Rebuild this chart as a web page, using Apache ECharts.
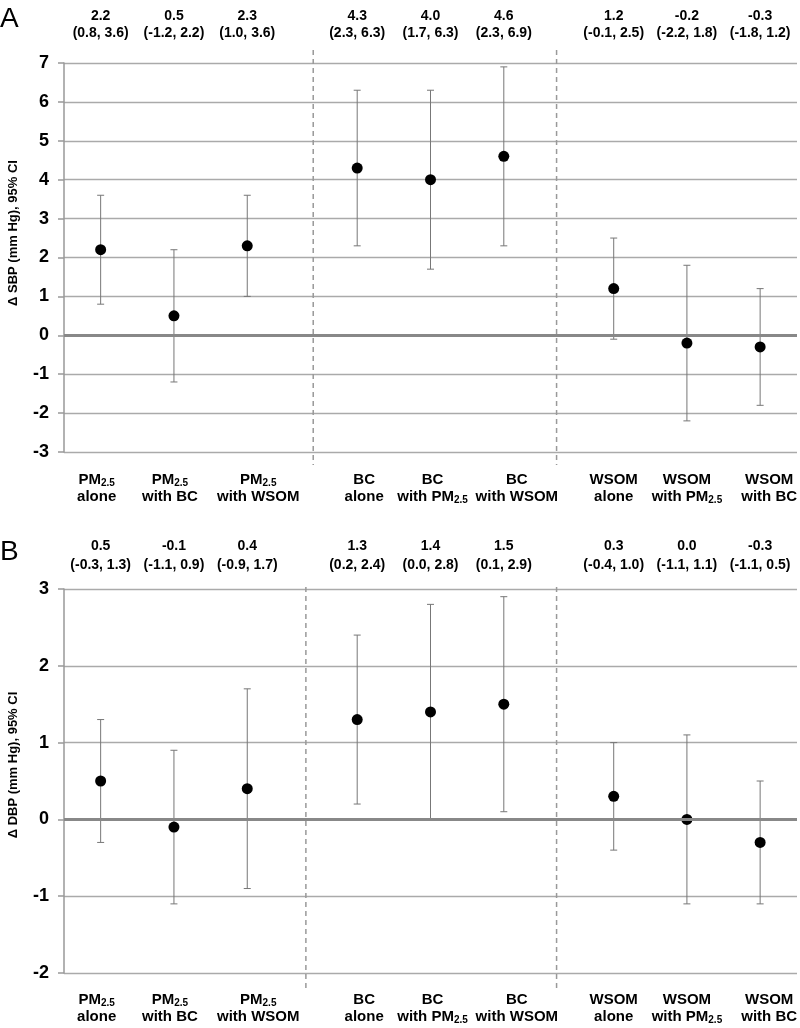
<!DOCTYPE html>
<html><head><meta charset="utf-8">
<script src="https://cdn.jsdelivr.net/npm/echarts/dist/echarts.min.js"></script>
<style>html,body{margin:0;padding:0;background:#fff}#c{width:800px;height:1028px}</style>
</head><body><div id="c"></div>
<script>
// ---- data ----
const catTop = ['PM2.5','PM2.5','PM2.5','BC','BC','BC','WSOM','WSOM','WSOM'];
const catBottom = ['alone','with BC','with WSOM','alone','with PM2.5','with WSOM','alone','with PM2.5','with BC'];
const sbpEst = [2.2, 0.5, 2.3, 4.3, 4.0, 4.6, 1.2, -0.2, -0.3];
const sbpLo  = [0.8, -1.2, 1.0, 2.3, 1.7, 2.3, -0.1, -2.2, -1.8];
const sbpHi  = [3.6, 2.2, 3.6, 6.3, 6.3, 6.9, 2.5, 1.8, 1.2];
const dbpEst = [0.5, -0.1, 0.4, 1.3, 1.4, 1.5, 0.3, 0.0, -0.3];
const dbpLo  = [-0.3, -1.1, -0.9, 0.2, 0.0, 0.1, -0.4, -1.1, -1.1];
const dbpHi  = [1.3, 0.9, 1.7, 2.4, 2.8, 2.9, 1.0, 1.1, 0.5];
const sbpTicks = {min: -3, max: 7, interval: 1};
const dbpTicks = {min: -2, max: 3, interval: 1};
const sbpName = 'Δ SBP (mm Hg), 95% CI';
const dbpName = 'Δ DBP (mm Hg), 95% CI';

// ---- layout ----
const FONT = '"Liberation Sans", Arial, sans-serif';
const AX_LEFT = 64, SLOT = 73.3;
// horizontal nudge of the category labels (px, label layout only)
const labelNudge = [-4, -4, 11, 7, 2, 13, 0, 0, 9];
const panels = [
  {letter:'A', name:sbpName, est:sbpEst, lo:sbpLo, hi:sbpHi, ticks:sbpTicks,
   top:63, height:389, nameY:233, letterY:19, sep:[3.4, 6.72], sepExt:[13, 13],
   topMargin:21, topLH:17.5, botMargin:20, botLH:16.5},
  {letter:'B', name:dbpName, est:dbpEst, lo:dbpLo, hi:dbpHi, ticks:dbpTicks,
   top:589, height:384, nameY:765, letterY:552, sep:[3.3, 6.72], sepExt:[2, 18],
   topMargin:14, topLH:19.5, botMargin:19, botLH:16.5}
];

function bottomLabel(v) {
  return v.split('\n').map(line => {
    const parts = line.split('PM2.5');
    return parts.map(s => s ? '{b|' + s + '}' : '').join('{b|PM}{s|2.5}');
  }).join('\n');
}

const grids = [], xAxes = [], yAxes = [], series = [], graphics = [];

panels.forEach(p => {
  const gi = grids.length;
  grids.push({left: AX_LEFT, top: p.top, width: SLOT * 10, height: p.height});
  xAxes.push({gridIndex: gi, type: 'value', min: 0, max: 10, show: false});
  yAxes.push({gridIndex: gi, type: 'value', min: p.ticks.min, max: p.ticks.max, interval: p.ticks.interval,
    axisLine: {show: true, lineStyle: {color: '#999', width: 1.5}},
    axisTick: {show: true, length: 6, lineStyle: {color: '#999', width: 1.5}},
    axisLabel: {fontSize: 18, fontWeight: 'bold', color: '#000', fontFamily: FONT, margin: 15},
    splitLine: {lineStyle: {color: '#aaa', width: 1.3}}
  });
  const mainX = xAxes.length - 1, mainY = yAxes.length - 1;
  series.push({
    type: 'custom', xAxisIndex: mainX, yAxisIndex: mainY, silent: true, z: 1,
    data: p.sep.map(s => [s, p.ticks.min, p.ticks.max]),
    renderItem: (params, api) => {
      const a = api.coord([api.value(0), api.value(2)]);
      const b = api.coord([api.value(0), api.value(1)]);
      return {type: 'line', shape: {x1: a[0], y1: a[1] - p.sepExt[0], x2: b[0], y2: b[1] + p.sepExt[1]},
        style: {stroke: '#999', lineWidth: 1.5, lineDash: [5, 4]}};
    },
    markLine: {silent: true, symbol: 'none', label: {show: false}, animation: false,
      lineStyle: {color: '#888', width: 3, type: 'solid'}, data: [{yAxis: 0}]}
  });

  for (let g = 0; g < 3; g++) {
    const idx = [0, 1, 2].map(k => g * 3 + k);
    const sg = grids.length;
    grids.push({left: AX_LEFT + SLOT * 3.5 * g, top: p.top, width: SLOT * 3, height: p.height});
    const xb = xAxes.length;
    xAxes.push({gridIndex: sg, type: 'category', position: 'bottom',
      data: idx.map(i => {
        const n = labelNudge[i];
        return {value: catTop[i] + '\n' + catBottom[i],
          textStyle: {padding: n >= 0 ? [0, 0, 0, 2 * n] : [0, -2 * n, 0, 0]}};
      }),
      axisLine: {show: false}, axisTick: {show: false}, splitLine: {show: false},
      axisLabel: {interval: 0, margin: p.botMargin, formatter: bottomLabel,
        rich: {
          b: {fontSize: 15, fontWeight: 'bold', color: '#000', fontFamily: FONT, lineHeight: p.botLH},
          s: {fontSize: 10, fontWeight: 'bold', color: '#000', fontFamily: FONT, lineHeight: 10, verticalAlign: 'bottom'}
        }}
    });
    xAxes.push({gridIndex: sg, type: 'category', position: 'top',
      data: idx.map(i => p.est[i].toFixed(1) + '\n(' + p.lo[i].toFixed(1) + ', ' + p.hi[i].toFixed(1) + ')'),
      axisLine: {show: false}, axisTick: {show: false}, splitLine: {show: false},
      axisLabel: {interval: 0, margin: p.topMargin, fontSize: 14, fontWeight: 'bold', color: '#000',
        fontFamily: FONT, lineHeight: p.topLH}
    });
    const ya = yAxes.length;
    yAxes.push({gridIndex: sg, type: 'value', min: p.ticks.min, max: p.ticks.max, interval: p.ticks.interval, show: false,
      splitLine: {show: false}});
    series.push({
      type: 'custom', xAxisIndex: xb, yAxisIndex: ya, silent: true, z: 3,
      data: idx.map((i, k) => [k, p.lo[i], p.hi[i]]),
      encode: {x: 0, y: [1, 2]},
      renderItem: (params, api) => {
        const lo = api.coord([api.value(0), api.value(1)]);
        const hi = api.coord([api.value(0), api.value(2)]);
        const w = 3.5, st = {stroke: '#777', lineWidth: 1};
        return {type: 'group', children: [
          {type: 'line', shape: {x1: lo[0], y1: lo[1], x2: hi[0], y2: hi[1]}, style: st},
          {type: 'line', shape: {x1: lo[0] - w, y1: lo[1], x2: lo[0] + w, y2: lo[1]}, style: st},
          {type: 'line', shape: {x1: hi[0] - w, y1: hi[1], x2: hi[0] + w, y2: hi[1]}, style: st}
        ]};
      }
    });
    series.push({
      type: 'scatter', xAxisIndex: xb, yAxisIndex: ya, z: 4, silent: true,
      symbol: 'circle', symbolSize: 11, itemStyle: {color: '#000', opacity: 1},
      data: idx.map(i => p.est[i])
    });
  }

  graphics.push({type: 'text', x: 13, y: p.nameY, rotation: Math.PI / 2,
    style: {text: p.name, font: 'bold 13px ' + FONT, fill: '#000',
      align: 'center', verticalAlign: 'middle', textAlign: 'center', textVerticalAlign: 'middle'}});
  graphics.push({type: 'text', x: 0, y: p.letterY,
    style: {text: p.letter, font: '28px ' + FONT, fill: '#000',
      align: 'left', verticalAlign: 'middle', textAlign: 'left', textVerticalAlign: 'middle'}});
});

const chart = echarts.init(document.getElementById('c'), null, {renderer: 'canvas'});
chart.setOption({
  animation: false,
  backgroundColor: '#fff',
  grid: grids, xAxis: xAxes, yAxis: yAxes, series: series, graphic: graphics
});
</script>
</body></html>
